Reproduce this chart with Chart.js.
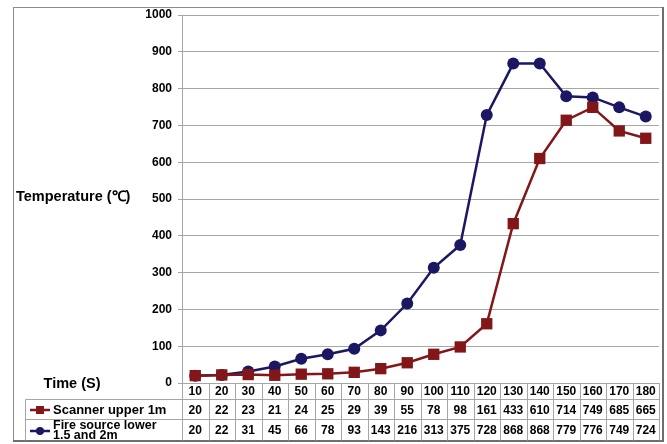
<!DOCTYPE html>
<html>
<head>
<meta charset="utf-8">
<script src="https://cdn.jsdelivr.net/npm/chart.js@4/dist/chart.umd.min.js"></script>
<style>
html,body{margin:0;padding:0;background:#fff;}
#wrap{width:667px;height:444px;position:relative;}
</style>
</head>
<body>
<div id="wrap"><canvas id="c" width="667" height="444"></canvas></div>
<script>
const times = [10,20,30,40,50,60,70,80,90,100,110,120,130,140,150,160,170,180];
const scanner = [20,22,23,21,24,25,29,39,55,78,98,161,433,610,714,749,685,665];
const fire = [20,22,31,45,66,78,93,143,216,313,375,728,868,868,779,776,749,724];
const yTicks = [0,100,200,300,400,500,600,700,800,900,1000];
const seriesNames = ['Scanner upper 1m', ['Fire source lower', '1.5 and 2m']];
const yTitle = 'Temperature (\u2103)';
const xTitle = 'Time (S)';

const RED = '#821618';
const NAVY = '#1c1763';
const GRID = '#a6a6a6';
const FONT = "'Liberation Sans Narrow','Liberation Sans',Arial,sans-serif";

const tablePlugin = {
  id: 'tablePlugin',
  afterDraw(chart) {
    const ctx = chart.ctx;
    const xs = chart.scales.x;
    const area = chart.chartArea;
    const step = xs.getPixelForValue(1) - xs.getPixelForValue(0);
    const top = area.bottom;
    const r1 = 399.5, r2 = 419.5, bot = 440.5;
    const leftCell = 25.5;
    const x0 = xs.getPixelForValue(0) - step / 2;
    const xN = xs.getPixelForValue(times.length - 1) + step / 2;
    ctx.save();
    ctx.strokeStyle = '#8c8c8c';
    ctx.lineWidth = 1;
    ctx.strokeRect(13.5, 7.5, 649, 433);
    ctx.strokeStyle = '#6e6e6e';
    ctx.lineWidth = 2;
    ctx.beginPath();
    ctx.moveTo(13, 441); ctx.lineTo(664, 441);
    ctx.moveTo(663, 7); ctx.lineTo(663, 442);
    ctx.stroke();
    ctx.strokeStyle = GRID;
    ctx.lineWidth = 1;
    ctx.beginPath();
    for (let i = 0; i <= times.length; i++) {
      const x = Math.round(x0 + i * step) + 0.5;
      ctx.moveTo(x, top); ctx.lineTo(x, bot);
    }
    ctx.moveTo(leftCell, r1); ctx.lineTo(xN, r1);
    ctx.moveTo(leftCell, r2); ctx.lineTo(xN, r2);
    ctx.moveTo(leftCell, r1); ctx.lineTo(leftCell, bot);
    ctx.stroke();
    ctx.fillStyle = '#000';
    ctx.font = 'bold 12px ' + FONT;
    ctx.textAlign = 'center';
    ctx.textBaseline = 'middle';
    times.forEach((t, i) => {
      const x = xs.getPixelForValue(i);
      ctx.fillText(String(t), x, 392);
      ctx.fillText(String(scanner[i]), x, 410.5);
      ctx.fillText(String(fire[i]), x, 431);
    });
    ctx.lineWidth = 2.5;
    ctx.strokeStyle = RED;
    ctx.beginPath(); ctx.moveTo(30, 410); ctx.lineTo(50, 410); ctx.stroke();
    ctx.fillStyle = RED;
    ctx.fillRect(36, 406, 8, 8);
    ctx.strokeStyle = NAVY;
    ctx.beginPath(); ctx.moveTo(30, 431); ctx.lineTo(50, 431); ctx.stroke();
    ctx.fillStyle = NAVY;
    ctx.beginPath(); ctx.arc(40, 431, 4, 0, Math.PI * 2); ctx.fill();
    ctx.fillStyle = '#000';
    ctx.textAlign = 'left';
    ctx.font = 'bold 13px ' + FONT;
    ctx.fillText(seriesNames[0], 53, 410.5);
    ctx.font = 'bold 12.5px ' + FONT;
    ctx.fillText(seriesNames[1][0], 53, 425.5);
    ctx.fillText(seriesNames[1][1], 53, 435.5);
    ctx.font = 'bold 14.5px ' + FONT;
    ctx.fillText(yTitle, 16, 197);
    ctx.textAlign = 'center';
    ctx.fillText(xTitle, 72, 384);
    ctx.restore();
  }
};

new Chart(document.getElementById('c'), {
  type: 'line',
  data: {
    labels: times.map(String),
    datasets: [
      {
        label: 'Scanner upper 1m',
        data: scanner,
        borderColor: RED,
        backgroundColor: RED,
        borderWidth: 2.5,
        pointStyle: 'rect',
        pointRadius: 8,
        pointBorderWidth: 0,
        tension: 0
      },
      {
        label: 'Fire source lower 1.5 and 2m',
        data: fire,
        borderColor: NAVY,
        backgroundColor: NAVY,
        borderWidth: 2.5,
        pointStyle: 'circle',
        pointRadius: 6,
        pointBorderWidth: 0,
        tension: 0
      }
    ]
  },
  options: {
    responsive: false,
    animation: false,
    devicePixelRatio: 1,
    layout: { padding: { left: 13, top: 15, right: 5, bottom: 0 } },
    plugins: { legend: { display: false }, tooltip: { enabled: false } },
    scales: {
      x: {
        offset: true,
        grid: { display: false },
        border: { display: false },
        ticks: { display: false },
        afterFit(s) { s.height = 61; }
      },
      y: {
        min: 0, max: 1000,
        afterBuildTicks(s) { s.ticks = yTicks.map(v => ({ value: v })); },
        grid: { color: GRID, lineWidth: 1, tickLength: 4, drawTicks: true },
        border: { display: true, color: GRID, width: 1 },
        ticks: {
          padding: 6,
          color: '#000',
          font: { family: FONT, weight: 'bold', size: 12 },
          callback: (v) => String(v)
        },
        afterFit(s) { s.width = 169; }
      }
    }
  },
  plugins: [tablePlugin]
});
</script>
</body>
</html>
